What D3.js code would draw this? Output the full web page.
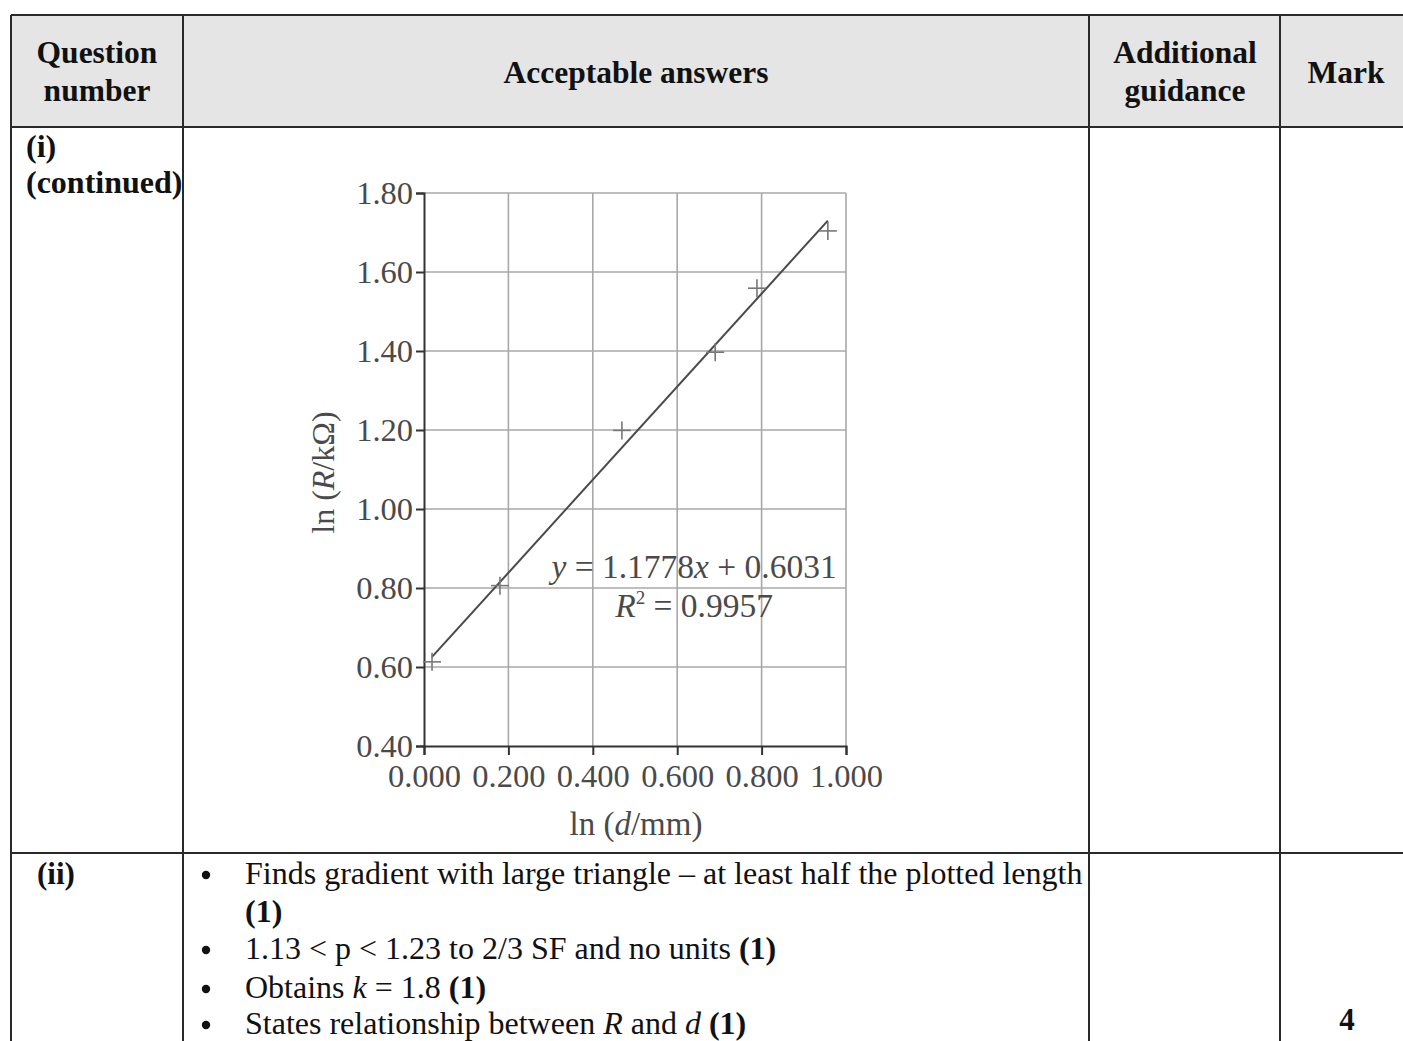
<!DOCTYPE html>
<html>
<head>
<meta charset="utf-8">
<script src="https://cdn.jsdelivr.net/npm/d3@7"></script>
<style>
  html, body { margin: 0; padding: 0; background: #fff; }
  svg { display: block; font-family: "Liberation Serif", "Times New Roman", serif; }
</style>
</head>
<body>
<svg id="chart" width="1403" height="1041"></svg>
<script>
// ---------- data ----------
const lnD = [0.019, 0.180, 0.469, 0.690, 0.789, 0.957];
const lnR = [0.613, 0.806, 1.199, 1.397, 1.559, 1.704];
const slope = 1.1778;
const intercept = 0.6031;
const rSquared = 0.9957;
const xTicks = [0, 0.2, 0.4, 0.6, 0.8, 1.0];
const yTicks = [0.4, 0.6, 0.8, 1.0, 1.2, 1.4, 1.6, 1.8];
const headers = ["Question|number", "Acceptable answers", "Additional|guidance", "Mark"];
const rowLabelsI = ["(i)", "(continued)"];
const rowLabelII = "(ii)";
const bulletsII = [
  [{t: "Finds gradient with large triangle \u2013 at least half the plotted length"}],
  [{t: "(1)", b: true}],
  [{t: "1.13 < p < 1.23 to 2/3 SF and no units "}, {t: "(1)", b: true}],
  [{t: "Obtains "}, {t: "k", i: true}, {t: " = 1.8 "}, {t: "(1)", b: true}],
  [{t: "States relationship between "}, {t: "R", i: true}, {t: " and "}, {t: "d", i: true}, {t: " "}, {t: "(1)", b: true}]
];
const markII = "4";

// ---------- table ----------
const svg = d3.select("#chart");
const W = 1403, H = 1041;
const colX = [11, 183, 1089, 1280, 1403];
const rowY = [15, 127, 853, 1041];
const lineCol = "#2a2a2a";

svg.append("rect").attr("x", colX[0]).attr("y", rowY[0])
  .attr("width", W - colX[0]).attr("height", rowY[1] - rowY[0]).attr("fill", "#e5e5e5");

[rowY[0], rowY[1], rowY[2]].forEach(yy => {
  svg.append("line").attr("x1", colX[0]).attr("x2", W).attr("y1", yy).attr("y2", yy)
    .attr("stroke", lineCol).attr("stroke-width", 2);
});
colX.slice(0, 4).forEach(xx => {
  svg.append("line").attr("x1", xx).attr("x2", xx).attr("y1", rowY[0]).attr("y2", H)
    .attr("stroke", lineCol).attr("stroke-width", 2);
});

const headCenters = [97, 636, 1185, 1346];
headers.forEach((h, i) => {
  const parts = h.split("|");
  const t = svg.append("text").attr("text-anchor", "middle").attr("font-weight", "bold")
    .attr("font-size", 31.5).attr("fill", "#111");
  if (parts.length === 2) {
    t.append("tspan").attr("x", headCenters[i]).attr("y", 63).text(parts[0]);
    t.append("tspan").attr("x", headCenters[i]).attr("y", 101).text(parts[1]);
  } else {
    t.append("tspan").attr("x", headCenters[i]).attr("y", 83).text(parts[0]);
  }
});

rowLabelsI.forEach((s, i) => {
  svg.append("text").attr("x", 26).attr("y", 157 + i * 36).attr("font-weight", "bold")
    .attr("font-size", 32).attr("fill", "#111").text(s);
});

svg.append("text").attr("x", 37).attr("y", 884).attr("font-weight", "bold")
  .attr("font-size", 31).attr("fill", "#111").text(rowLabelII);

const lineYs = [884, 922, 959, 998, 1034];
bulletsII.forEach((segs, i) => {
  if (i !== 1) {
    svg.append("circle").attr("cx", 206).attr("cy", lineYs[i] - 9).attr("r", 4.2).attr("fill", "#111");
  }
  const t = svg.append("text").attr("x", 245).attr("y", lineYs[i]).attr("font-size", 32).attr("fill", "#111");
  segs.forEach(s => {
    const ts = t.append("tspan").text(s.t);
    if (s.b) ts.attr("font-weight", "bold");
    if (s.i) ts.attr("font-style", "italic");
  });
});
svg.append("text").attr("x", 1347).attr("y", 1030).attr("text-anchor", "middle")
  .attr("font-weight", "bold").attr("font-size", 31).attr("fill", "#111").text(markII);

// ---------- chart ----------
const x = d3.scaleLinear().domain([0, 1]).range([424, 846]);
const y = d3.scaleLinear().domain([0.4, 1.8]).range([746, 193]);
const textCol = "#4a4a4a";
const gridCol = "#a8a8a8";

const g = svg.append("g");

g.selectAll(".vg").data(xTicks.slice(1)).enter().append("line")
  .attr("x1", d => x(d)).attr("x2", d => x(d)).attr("y1", y(0.4)).attr("y2", y(1.8))
  .attr("stroke", gridCol).attr("stroke-width", 1.6);
g.selectAll(".hg").data(yTicks.slice(1)).enter().append("line")
  .attr("x1", x(0)).attr("x2", x(1)).attr("y1", d => y(d)).attr("y2", d => y(d))
  .attr("stroke", gridCol).attr("stroke-width", 1.6);

const yAxis = d3.axisLeft(y).tickValues(yTicks).tickFormat(d3.format(".2f"))
  .tickSize(8).tickPadding(3);
const xAxis = d3.axisBottom(x).tickValues(xTicks).tickFormat(d3.format(".3f"))
  .tickSize(9).tickPadding(9);

const ya = g.append("g").attr("transform", `translate(${x(0)},0)`).call(yAxis);
const xa = g.append("g").attr("transform", `translate(0,${y(0.4)})`).call(xAxis);
[ya, xa].forEach(a => {
  a.select(".domain").attr("stroke", "#333").attr("stroke-width", 2);
  a.selectAll(".tick line").attr("stroke", "#333").attr("stroke-width", 2);
  a.selectAll(".tick text").attr("fill", textCol).attr("font-size", 32.5)
    .attr("font-family", "Liberation Serif, Times New Roman, serif");
});

const xMin = d3.min(lnD), xMax = d3.max(lnD);
g.append("line")
  .attr("x1", x(xMin)).attr("y1", y(slope * xMin + intercept))
  .attr("x2", x(xMax)).attr("y2", y(slope * xMax + intercept))
  .attr("stroke", "#4a4a4a").attr("stroke-width", 2);

const pts = lnD.map((d, i) => [d, lnR[i]]);
const mk = 9;
const pg = g.selectAll(".pt").data(pts).enter().append("g")
  .attr("transform", d => `translate(${x(d[0])},${y(d[1])})`);
pg.append("line").attr("x1", -mk).attr("x2", mk).attr("y1", 0).attr("y2", 0)
  .attr("stroke", "#777").attr("stroke-width", 1.6);
pg.append("line").attr("y1", -mk).attr("y2", mk).attr("x1", 0).attr("x2", 0)
  .attr("stroke", "#777").attr("stroke-width", 1.6);

const eqX = x(0.64);
const eq1 = g.append("text").attr("x", eqX).attr("y", y(0.825)).attr("text-anchor", "middle")
  .attr("font-size", 33.5).attr("fill", textCol);
eq1.append("tspan").attr("font-style", "italic").text("y");
eq1.append("tspan").text(" = " + slope.toFixed(4));
eq1.append("tspan").attr("font-style", "italic").text("x");
eq1.append("tspan").text(" + " + intercept.toFixed(4));

const eq2 = g.append("text").attr("x", eqX).attr("y", y(0.727)).attr("text-anchor", "middle")
  .attr("font-size", 33.5).attr("fill", textCol);
eq2.append("tspan").attr("font-style", "italic").text("R");
eq2.append("tspan").attr("font-size", 19).attr("dy", -13).text("2");
eq2.append("tspan").attr("dy", 13).text(" = " + rSquared.toFixed(4));

const yt = g.append("text").attr("transform", `translate(334,${(y(0.4) + y(1.8)) / 2 + 3}) rotate(-90)`)
  .attr("text-anchor", "middle").attr("font-size", 32).attr("fill", textCol);
yt.append("tspan").text("ln (");
yt.append("tspan").attr("font-style", "italic").text("R");
yt.append("tspan").text("/k\u03A9)");

const xt = g.append("text").attr("x", (x(0) + x(1)) / 2 + 1).attr("y", 835)
  .attr("text-anchor", "middle").attr("font-size", 33).attr("fill", textCol);
xt.append("tspan").text("ln (");
xt.append("tspan").attr("font-style", "italic").text("d");
xt.append("tspan").text("/mm)");
</script>
</body>
</html>
